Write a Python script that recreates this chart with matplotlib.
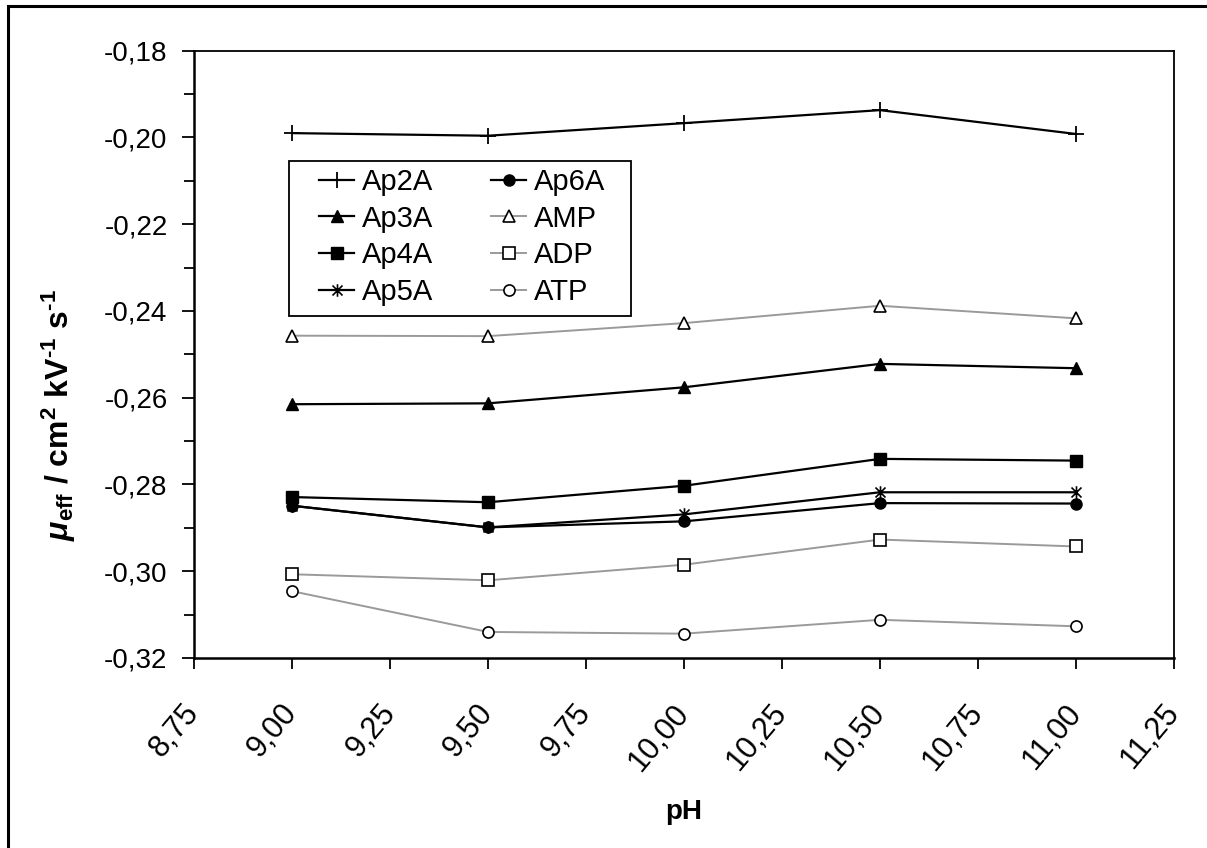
import matplotlib
matplotlib.use("Agg")
import matplotlib.pyplot as plt
from matplotlib.path import Path
from matplotlib.ticker import MultipleLocator, FuncFormatter
from matplotlib.patches import Rectangle

plt.rcParams['font.family'] = ['Liberation Sans', 'DejaVu Sans']
plt.rcParams['mathtext.fontset'] = 'custom'
plt.rcParams['mathtext.rm'] = 'Liberation Sans:bold'
plt.rcParams['mathtext.it'] = 'Liberation Sans:italic:bold'
plt.rcParams['mathtext.bf'] = 'Liberation Sans:bold'

# data
ph = [9.00, 9.50, 10.00, 10.50, 11.00]
ap2a = [-0.1990, -0.1996, -0.1967, -0.1937, -0.1992]
ap3a = [-0.2615, -0.2613, -0.2576, -0.2522, -0.2532]
ap4a = [-0.2829, -0.2841, -0.2803, -0.2741, -0.2745]
ap5a = [-0.2849, -0.2899, -0.2869, -0.2818, -0.2818]
ap6a = [-0.2849, -0.2899, -0.2885, -0.2843, -0.2844]
amp = [-0.2457, -0.2458, -0.2428, -0.2388, -0.2417]
adp = [-0.3007, -0.3021, -0.2985, -0.2927, -0.2943]
atp = [-0.3046, -0.3140, -0.3144, -0.3112, -0.3127]

# asterisk marker like the spreadsheet one: x plus a vertical bar
star_path = Path([(-1, -1), (1, 1), (-1, 1), (1, -1), (0, -1.25), (0, 1.25)],
                 [Path.MOVETO, Path.LINETO, Path.MOVETO, Path.LINETO, Path.MOVETO, Path.LINETO])

grey = '#9a9a9a'

fig = plt.figure(figsize=(12.07, 8.48), dpi=100)
ax = fig.add_axes([0.1607, 0.2241, 0.8120, 0.7161])

# outer frame round the whole picture (cut at right and bottom)
fig.patches.append(Rectangle((8 / 1207, -0.05), 1.2, 842 / 848 + 0.05,
                             transform=fig.transFigure, fill=False,
                             edgecolor='black', linewidth=2.2, zorder=0))

ax.plot(ph, ap2a, color='black', lw=1.6, marker='+', ms=12, mew=1.3, label='Ap2A')
ax.plot(ph, ap3a, color='black', lw=1.6, marker='^', ms=8, label='Ap3A')
ax.plot(ph, ap4a, color='black', lw=1.6, marker='s', ms=8, label='Ap4A')
ax.plot(ph, ap5a, color='black', lw=1.6, marker=star_path, ms=9, mew=1.2,
        mfc='none', mec='black', label='Ap5A')
ax.plot(ph, ap6a, color='black', lw=1.6, marker='o', ms=8, label='Ap6A')
ax.plot(ph, amp, color=grey, lw=1.4, marker='^', ms=8, mfc='white', mec='black',
        mew=1.2, label='AMP')
ax.plot(ph, adp, color=grey, lw=1.4, marker='s', ms=8, mfc='white', mec='black',
        mew=1.2, label='ADP')
ax.plot(ph, atp, color=grey, lw=1.4, marker='o', ms=8, mfc='white', mec='black',
        mew=1.2, label='ATP')

ax.set_xlim(8.75, 11.25)
ax.set_ylim(-0.32, -0.18)

comma = lambda fmt: FuncFormatter(lambda v, p: fmt.format(v).replace('.', ','))
ax.xaxis.set_major_locator(MultipleLocator(0.25))
ax.xaxis.set_major_formatter(comma('{:.2f}'))
ax.yaxis.set_major_locator(MultipleLocator(0.02))
ax.yaxis.set_minor_locator(MultipleLocator(0.01))
ax.yaxis.set_major_formatter(comma('{:.2f}'))

ax.tick_params(axis='both', which='both', direction='out', width=1.3, color='black')
ax.tick_params(axis='y', which='major', length=9, labelsize=20, pad=10)
ax.tick_params(axis='y', which='minor', length=7)
ax.tick_params(axis='x', which='major', length=8, labelsize=22, pad=28)
for lab in ax.get_xticklabels():
    lab.set_rotation(50)
    lab.set_ha('right')
    lab.set_va('center')
    lab.set_rotation_mode('anchor')

for side in ['left', 'bottom']:
    ax.spines[side].set_linewidth(1.8)
for side in ['top', 'right']:
    ax.spines[side].set_linewidth(1.3)

ax.set_xlabel('pH', fontsize=20, fontweight='bold')
ax.xaxis.set_label_coords(0.5, -0.232)
ax.set_ylabel('$\\mu_{\\rm eff}$ / cm$^{\\rm 2}$ kV$^{\\rm \u20101}$ s$^{\\rm \u20101}$',
              fontsize=23, fontweight='bold')
ax.yaxis.set_label_coords(-0.1184, 0.40)

# legend box drawn separately so the padding matches the original
ax.add_patch(Rectangle((0.0969, 0.5629), 0.349, 0.2551, transform=ax.transAxes,
                       facecolor='white', edgecolor='black', linewidth=1.3,
                       zorder=4))
leg = ax.legend(ncol=2, loc='upper left', bbox_to_anchor=(0.1276, 0.807),
                borderaxespad=0, fontsize=21, frameon=False,
                handlelength=1.2, handletextpad=0.27,
                columnspacing=2.0, labelspacing=0.3, borderpad=0)
leg.set_zorder(5)

fig.savefig('out.png', dpi=100)
